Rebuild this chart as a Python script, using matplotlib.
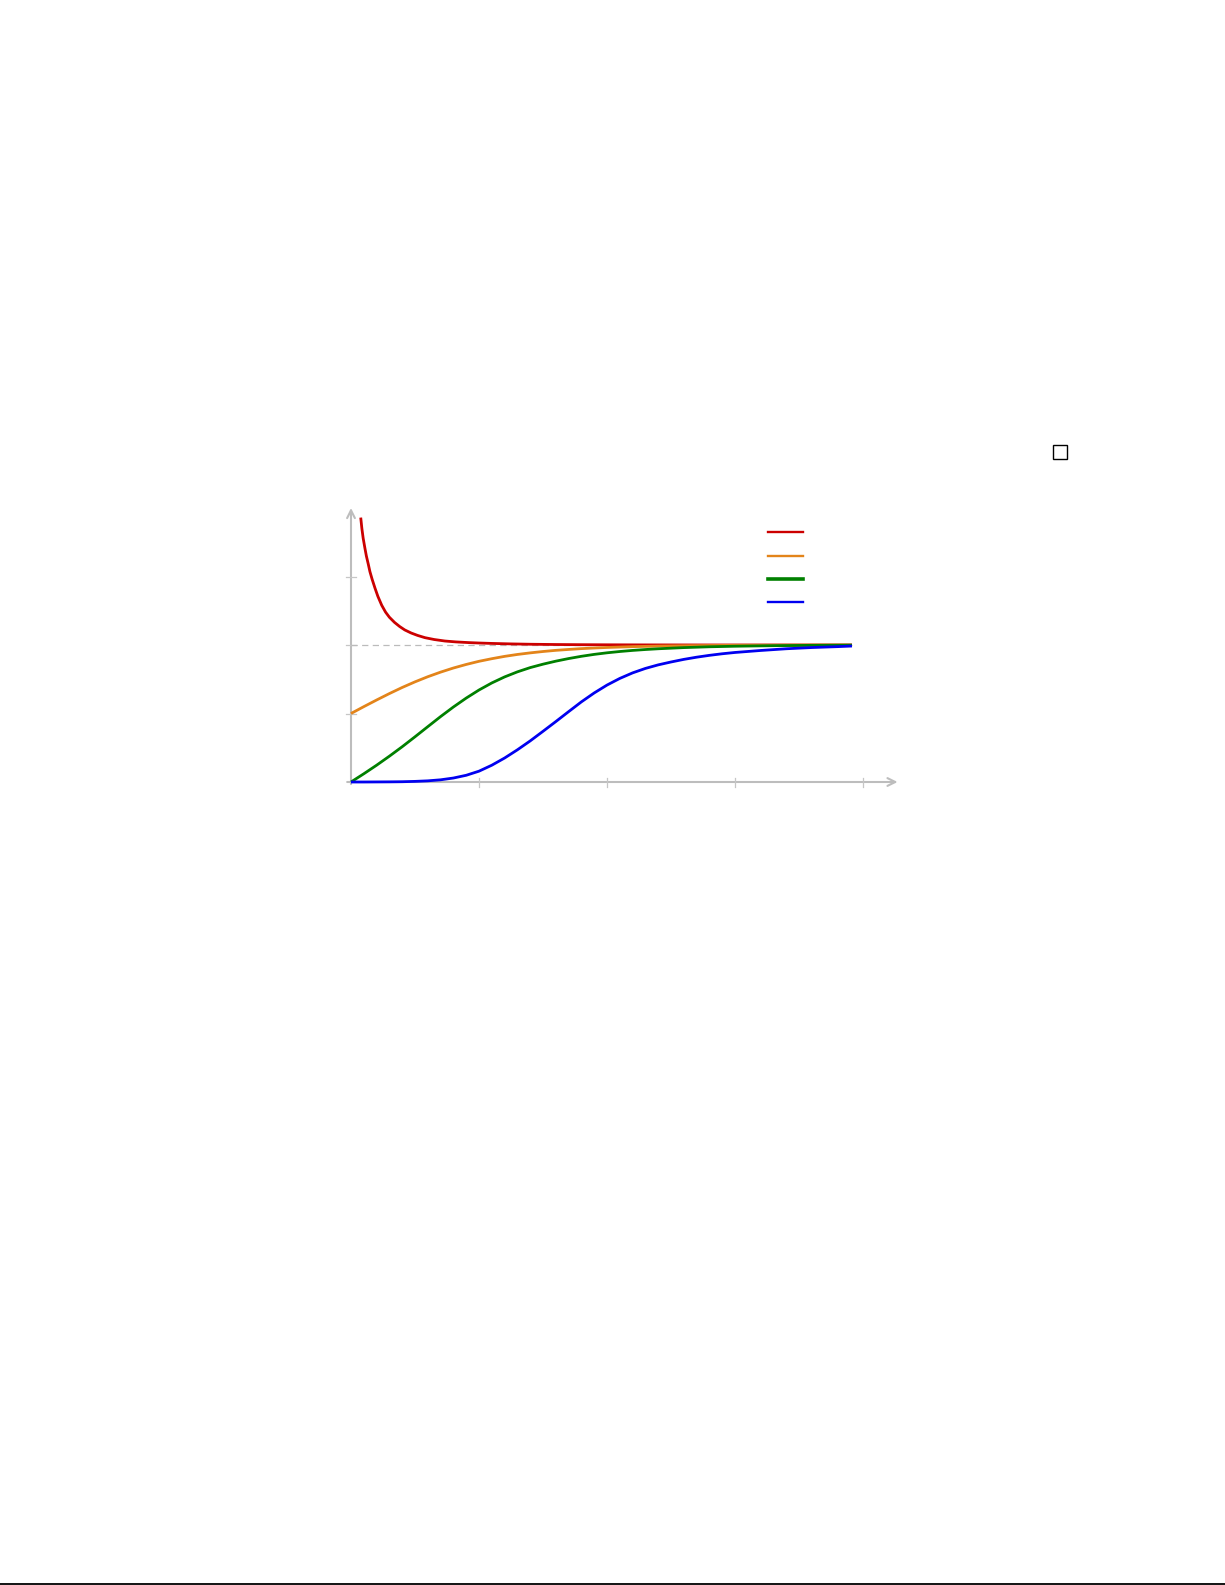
import matplotlib
matplotlib.use('Agg')
import matplotlib.pyplot as plt
from matplotlib.lines import Line2D
from matplotlib.patches import Rectangle

# 读图得到的曲线取样点（x 以横轴刻度为单位，y 以纵轴刻度为单位）
red_x = [0.076, 0.085, 0.095, 0.109, 0.12, 0.135, 0.148, 0.165, 0.1875, 0.21, 0.24, 0.27,
         0.30, 0.34, 0.38, 0.42, 0.47, 0.52, 0.578, 0.65, 0.734, 0.82, 0.92, 1.0, 1.1, 1.25,
         1.4, 1.6, 1.8, 2.0, 2.3, 2.7, 3.2, 3.914]
red_y = [3.86, 3.70, 3.56, 3.41, 3.30, 3.18, 3.07, 2.96, 2.83, 2.71, 2.58, 2.48,
         2.405, 2.33, 2.27, 2.22, 2.175, 2.14, 2.107, 2.08, 2.058, 2.045, 2.035, 2.029, 2.023, 2.016,
         2.011, 2.007, 2.0045, 2.003, 2.0015, 2.0006, 2.0002, 2.0]

orange_x = [0, 0.1, 0.2, 0.3, 0.4, 0.5, 0.6, 0.7, 0.8, 0.9, 1.0, 1.1, 1.2, 1.3, 1.4, 1.5,
            1.6, 1.7, 1.8, 1.9, 2.0, 2.2, 2.4, 2.6, 2.8, 3.0, 3.3, 3.6, 3.914]
orange_y = [1.0, 1.10, 1.197, 1.291, 1.38, 1.462, 1.537, 1.604, 1.664, 1.716, 1.762, 1.80,
            1.834, 1.862, 1.885, 1.905, 1.922, 1.935, 1.947, 1.956, 1.964, 1.976, 1.984, 1.989,
            1.993, 1.995, 1.997, 1.999, 1.999]

green_x = [0, 0.1, 0.2, 0.3, 0.4, 0.5, 0.6, 0.7, 0.8, 0.9, 1.0, 1.1, 1.2, 1.3, 1.4, 1.5,
           1.6, 1.7, 1.8, 1.9, 2.0, 2.1, 2.2, 2.3, 2.4, 2.6, 2.8, 3.0, 3.3, 3.6, 3.914]
green_y = [0, 0.12, 0.245, 0.377, 0.515, 0.66, 0.808, 0.955, 1.095, 1.225, 1.343, 1.446,
           1.534, 1.608, 1.670, 1.720, 1.764, 1.802, 1.835, 1.863, 1.886, 1.905, 1.921, 1.934,
           1.945, 1.962, 1.974, 1.982, 1.990, 1.995, 1.998]

blue_x = [0, 0.1, 0.2, 0.3, 0.4, 0.5, 0.6, 0.7, 0.8, 0.9, 1.0, 1.1, 1.2, 1.3, 1.4, 1.5,
          1.6, 1.7, 1.8, 1.9, 2.0, 2.1, 2.2, 2.3, 2.4, 2.5, 2.6, 2.7, 2.8, 2.9, 3.0, 3.2,
          3.4, 3.6, 3.8, 3.914]
blue_y = [0, 0, 0.001, 0.002, 0.004, 0.009, 0.017, 0.032, 0.058, 0.098, 0.158, 0.245, 0.35,
          0.47, 0.60, 0.74, 0.882, 1.027, 1.17, 1.30, 1.415, 1.512, 1.593, 1.658, 1.71, 1.752,
          1.79, 1.822, 1.849, 1.872, 1.891, 1.92, 1.945, 1.963, 1.976, 1.985]

limit_y = 2.0
x_ticks = [1, 2, 3, 4]
y_ticks = [1, 2, 3]

W, H = 1225, 1585
fig = plt.figure(figsize=(W / 100, H / 100), dpi=100)

# 坐标区：原点在 (351, 782) 像素，横向 128 px/单位，纵向 68.5 px/单位
px0, py0, sx, sy = 351, 782, 128.0, 68.5
left_px, right_px, top_px, bot_px = 330, 910, 495, 800
ax = fig.add_axes([left_px / W, 1 - bot_px / H, (right_px - left_px) / W, (bot_px - top_px) / H])
ax.set_xlim((left_px - px0) / sx, (right_px - px0) / sx)
ax.set_ylim((py0 - bot_px) / sy, (py0 - top_px) / sy)
ax.axis('off')

axis_col = '#bdbdbd'
tick_col = '#c6c6c6'

# 坐标轴与箭头
ax.annotate('', xy=(4.27, 0), xytext=(-0.03, 0), zorder=1,
            arrowprops=dict(arrowstyle='->', color=axis_col, lw=1.5, mutation_scale=14,
                            shrinkA=0, shrinkB=0))
ax.annotate('', xy=(0, 4.0), xytext=(0, -0.03), zorder=1,
            arrowprops=dict(arrowstyle='->', color=axis_col, lw=1.5, mutation_scale=14,
                            shrinkA=0, shrinkB=0))
for t in x_ticks:
    ax.plot([t, t], [-4.5 / sy, 4.5 / sy], color=tick_col, lw=0.9, zorder=1)
for t in y_ticks:
    ax.plot([-5 / sx, 5 / sx], [t, t], color=tick_col, lw=0.9, zorder=1)

# 极限虚线
ax.plot([0, 3.914], [limit_y, limit_y], color='#bbbbbb', lw=0.9, dashes=(5, 3.5), zorder=1)

colors = ['#cc0000', '#e3841a', '#008000', '#0000f0']
style = dict(solid_joinstyle='round', solid_capstyle='butt', zorder=3)
ax.plot(red_x, red_y, color=colors[0], lw=2.0, **style)
ax.plot(orange_x, orange_y, color=colors[1], lw=2.0, **style)
ax.plot(green_x, green_y, color=colors[2], lw=2.0, **style)
ax.plot(blue_x, blue_y, color=colors[3], lw=2.0, **style)

# 图例线段（无文字）
leg_y = [532, 555.6, 579, 602]
leg_w = [1.7, 1.7, 2.6, 1.7]
for c, y, w in zip(colors, leg_y, leg_w):
    fig.add_artist(Line2D([768 / W, 803 / W], [1 - y / H, 1 - y / H], color=c, lw=w))

# 证毕方框
fig.add_artist(Rectangle((1053 / W, 1 - 459 / H), 14 / W, 14 / H, fill=False,
                         edgecolor='black', lw=1.0))

# 页面底部横线
fig.add_artist(Line2D([0, 1], [1 - 1583.8 / H, 1 - 1583.8 / H], color='black', lw=1.3))

fig.savefig('out.png', dpi=100)
